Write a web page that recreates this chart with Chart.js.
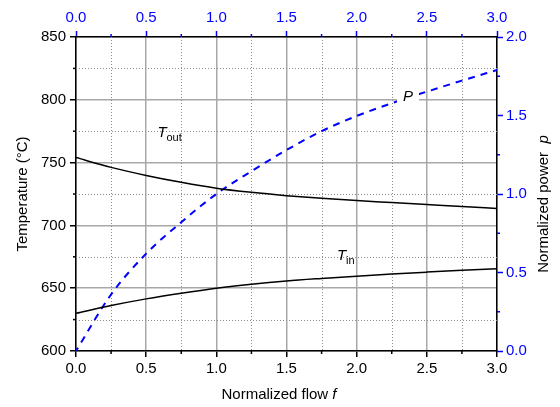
<!DOCTYPE html>
<html>
<head>
<meta charset="utf-8">
<script src="https://cdn.jsdelivr.net/npm/chart.js@4.4.1/dist/chart.umd.min.js"></script>
<style>
  html, body { margin: 0; padding: 0; background: #fff; }
  #wrap { width: 560px; height: 407px; }
</style>
</head>
<body>
<div id="wrap"><canvas id="chart"></canvas></div>
<script>
// values
const flow = [0, 0.25, 0.5, 0.75, 1.0, 1.25, 1.5, 1.75, 2.0, 2.25, 2.5, 2.75, 3.0];
const tOut = [754, 746.2, 739.8, 734.3, 729.6, 726.3, 723.7, 721.6, 719.8, 718.2, 716.6, 715, 713.5];
const tIn = [630, 636.2, 641.5, 646, 650, 653.2, 655.8, 657.8, 659.6, 661.3, 662.8, 664.2, 665.5];
const power = [0, 0.36, 0.62, 0.82, 1.0, 1.145, 1.28, 1.40, 1.497, 1.578, 1.652, 1.722, 1.79];

const flowTicks = [0, 0.5, 1.0, 1.5, 2.0, 2.5, 3.0];
const flowMinor = [0.25, 0.75, 1.25, 1.75, 2.25, 2.75];
const tempMinor = [625, 675, 725, 775, 825];
const powerMinor = [0.25, 0.75, 1.25, 1.75];

const FONT = 'Arial, "Liberation Sans", sans-serif';
const BLUE = '#0000ff';

const pts = ys => flow.map((f, i) => ({ x: f, y: ys[i] }));

// minor grid, minor ticks, curve labels and axis titles
const decor = {
    id: 'decor',
    beforeDatasetsDraw(chart) {
        const { ctx, chartArea: a, scales } = chart;
        ctx.save();
        ctx.strokeStyle = '#8c8c8c';
        ctx.lineWidth = 1;
        ctx.setLineDash([1, 2]);
        flowMinor.forEach(v => {
            const x = Math.round(scales.x.getPixelForValue(v)) + 0.5;
            ctx.beginPath(); ctx.moveTo(x, a.top); ctx.lineTo(x, a.bottom); ctx.stroke();
        });
        tempMinor.forEach(v => {
            const y = Math.round(scales.y.getPixelForValue(v)) + 0.5;
            ctx.beginPath(); ctx.moveTo(a.left, y); ctx.lineTo(a.right, y); ctx.stroke();
        });
        ctx.restore();
    },
    afterDatasetsDraw(chart) {
        const { ctx, scales } = chart;
        ctx.save();
        ctx.fillStyle = '#000';
        ctx.textBaseline = 'alphabetic';
        ctx.textAlign = 'left';

        // T_out
        let x = scales.x.getPixelForValue(0.58);
        let y = scales.y.getPixelForValue(770);
        ctx.font = 'italic 15px ' + FONT;
        ctx.fillText('T', x, y);
        ctx.font = '11px ' + FONT;
        ctx.fillText('out', x + 9, y + 4);

        // T_in
        x = scales.x.getPixelForValue(1.86);
        y = scales.y.getPixelForValue(672.4);
        ctx.font = 'italic 15px ' + FONT;
        ctx.fillText('T', x, y);
        ctx.font = '11px ' + FONT;
        ctx.fillText('in', x + 9, y + 4);

        // P with white box behind it
        x = scales.x.getPixelForValue(2.33);
        y = scales.y1.getPixelForValue(1.594);
        ctx.fillStyle = '#fff';
        ctx.fillRect(x - 6, y - 13, 22, 17);
        ctx.fillStyle = '#000';
        ctx.font = 'italic 15px ' + FONT;
        ctx.fillText('P', x, y);
        ctx.restore();
    },
    afterDraw(chart) {
        const { ctx, chartArea: a, scales } = chart;
        ctx.save();
        // minor tick marks
        ctx.lineWidth = 1.5;
        ctx.strokeStyle = '#000';
        flowMinor.forEach(v => {
            const x = scales.x.getPixelForValue(v);
            ctx.beginPath(); ctx.moveTo(x, a.bottom); ctx.lineTo(x, a.bottom + 3); ctx.stroke();
        });
        tempMinor.forEach(v => {
            const y = scales.y.getPixelForValue(v);
            ctx.beginPath(); ctx.moveTo(a.left, y); ctx.lineTo(a.left - 3, y); ctx.stroke();
        });
        ctx.strokeStyle = BLUE;
        flowMinor.forEach(v => {
            const x = scales.x2.getPixelForValue(v);
            ctx.beginPath(); ctx.moveTo(x, a.top); ctx.lineTo(x, a.top - 3); ctx.stroke();
        });
        powerMinor.forEach(v => {
            const y = scales.y1.getPixelForValue(v);
            ctx.beginPath(); ctx.moveTo(a.right, y); ctx.lineTo(a.right + 3, y); ctx.stroke();
        });

        // axis titles
        ctx.fillStyle = '#000';
        ctx.textBaseline = 'middle';

        // bottom: Normalized flow f
        const t1 = 'Normalized flow ';
        ctx.font = '15px ' + FONT;
        const w1 = ctx.measureText(t1).width;
        ctx.font = 'italic 15px ' + FONT;
        const w2 = ctx.measureText('f').width;
        const sx = 279 - (w1 + w2) / 2;
        ctx.textAlign = 'left';
        ctx.font = '15px ' + FONT;
        ctx.fillText(t1, sx, 395);
        ctx.font = 'italic 15px ' + FONT;
        ctx.fillText('f', sx + w1, 395);

        // left: Temperature (°C)
        ctx.save();
        ctx.translate(23, (a.top + a.bottom) / 2);
        ctx.rotate(-Math.PI / 2);
        ctx.textAlign = 'center';
        ctx.font = '15px ' + FONT;
        ctx.fillText('Temperature (\u00B0C)', 0, 0);
        ctx.restore();

        // right: Normalized power  p (reads bottom to top)
        ctx.save();
        ctx.translate(544, (a.top + a.bottom) / 2 + 10);
        ctx.rotate(-Math.PI / 2);
        const r1 = 'Normalized power  ';
        ctx.font = '15px ' + FONT;
        const rw1 = ctx.measureText(r1).width;
        ctx.font = 'italic 15px ' + FONT;
        const rw2 = ctx.measureText('p').width;
        const rx = -(rw1 + rw2) / 2;
        ctx.textAlign = 'left';
        ctx.font = '15px ' + FONT;
        ctx.fillText(r1, rx, 0);
        ctx.font = 'italic 15px ' + FONT;
        ctx.fillText('p', rx + rw1, 0);
        ctx.restore();

        ctx.restore();
    }
};

const tickFont = { family: FONT, size: 15 };

new Chart(document.getElementById('chart'), {
    type: 'line',
    data: {
        datasets: [
            {
                label: 'Tout',
                data: pts(tOut),
                xAxisID: 'x', yAxisID: 'y',
                borderColor: '#000', borderWidth: 1.5,
                pointRadius: 0, cubicInterpolationMode: 'monotone', fill: false
            },
            {
                label: 'Tin',
                data: pts(tIn),
                xAxisID: 'x', yAxisID: 'y',
                borderColor: '#000', borderWidth: 1.5,
                pointRadius: 0, cubicInterpolationMode: 'monotone', fill: false
            },
            {
                label: 'P',
                data: pts(power),
                xAxisID: 'x', yAxisID: 'y1',
                borderColor: BLUE, borderWidth: 2, borderDash: [7, 6], borderDashOffset: 3,
                pointRadius: 0, cubicInterpolationMode: 'monotone', fill: false
            }
        ]
    },
    options: {
        responsive: true,
        maintainAspectRatio: false,
        animation: false,
        devicePixelRatio: 1,
        layout: { padding: 0 },
        plugins: { legend: { display: false }, tooltip: { enabled: false } },
        scales: {
            x: {
                type: 'linear', position: 'bottom', min: 0, max: 3,
                afterBuildTicks: s => { s.ticks = flowTicks.map(v => ({ value: v })); },
                ticks: { color: '#000', font: tickFont, padding: 3, maxRotation: 0,
                         callback: v => v.toFixed(1) },
                grid: { color: '#a8a8a8', lineWidth: 1.5, tickColor: '#000', tickLength: 6, tickWidth: 1.5 },
                border: { color: '#000', width: 1.5 },
                afterFit: s => { s.height = 56; }
            },
            x2: {
                type: 'linear', position: 'top', min: 0, max: 3,
                afterBuildTicks: s => { s.ticks = flowTicks.map(v => ({ value: v })); },
                ticks: { color: BLUE, font: tickFont, padding: 4, maxRotation: 0,
                         callback: v => v.toFixed(1) },
                grid: { drawOnChartArea: false, tickColor: BLUE, tickLength: 6, tickWidth: 1.5 },
                border: { color: '#000', width: 1.5 },
                afterFit: s => { s.height = 37; }
            },
            y: {
                type: 'linear', position: 'left', min: 600, max: 850,
                ticks: { stepSize: 50, color: '#000', font: tickFont, padding: 4 },
                grid: { color: '#a8a8a8', lineWidth: 1.5, tickColor: '#000', tickLength: 6, tickWidth: 1.5 },
                border: { color: '#000', width: 1.5 },
                afterFit: s => { s.width = 76; }
            },
            y1: {
                type: 'linear', position: 'right', min: 0, max: 2,
                ticks: { stepSize: 0.5, color: BLUE, font: tickFont, padding: 3,
                         callback: v => v.toFixed(1) },
                grid: { drawOnChartArea: false, tickColor: BLUE, tickLength: 6, tickWidth: 1.5 },
                border: { color: '#000', width: 1.5 },
                afterFit: s => { s.width = 63; }
            }
        }
    },
    plugins: [decor]
});
</script>
</body>
</html>
